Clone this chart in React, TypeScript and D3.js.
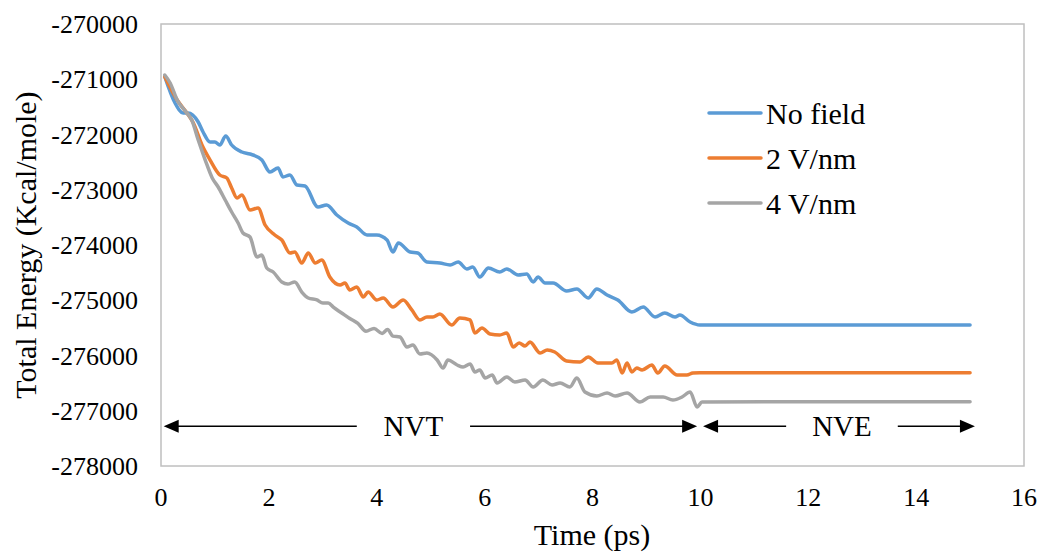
import React from "react";
import * as d3 from "d3";

// ---- Data (time in ps, energy in kcal/mole) ----
const seriesNames = ["No field", "2 V/nm", "4 V/nm"];
const seriesColors = ["#5B9BD5", "#ED7D31", "#A5A5A5"];

const noFieldT = [0.07, 0.26, 0.41, 0.5, 0.69, 0.78, 0.91, 1.0, 1.09, 1.2, 1.31, 1.5, 1.65, 1.87, 2.02, 2.17, 2.26, 2.39, 2.52, 2.67, 2.91, 3.07, 3.26, 3.47, 3.63, 3.82, 4.0, 4.19, 4.3, 4.4, 4.62, 4.76, 4.93, 5.17, 5.36, 5.51, 5.67, 5.78, 5.91, 6.07, 6.28, 6.41, 6.62, 6.78, 6.9, 6.99, 7.12, 7.27, 7.52, 7.71, 7.92, 8.08, 8.27, 8.47, 8.73, 8.94, 9.16, 9.34, 9.53, 9.62, 9.81, 9.99, 12.5, 15.0];
const noFieldE = [-270954, -271430, -271611, -271611, -271774, -271955, -272136, -272136, -272190, -272027, -272190, -272317, -272353, -272462, -272679, -272606, -272769, -272733, -272914, -272932, -273312, -273276, -273457, -273602, -273674, -273819, -273819, -273910, -274127, -273964, -274127, -274145, -274308, -274326, -274362, -274308, -274434, -274398, -274579, -274416, -274489, -274434, -274543, -274525, -274669, -274579, -274688, -274688, -274832, -274796, -274959, -274796, -274905, -274995, -275212, -275122, -275303, -275231, -275303, -275267, -275394, -275448, -275448, -275448];

const field2T = [0.07, 0.3, 0.48, 0.6, 0.76, 0.91, 1.09, 1.22, 1.31, 1.41, 1.5, 1.65, 1.8, 1.93, 2.11, 2.24, 2.39, 2.48, 2.61, 2.73, 2.86, 2.98, 3.13, 3.32, 3.41, 3.5, 3.63, 3.75, 3.84, 4.0, 4.12, 4.3, 4.49, 4.65, 4.8, 4.93, 5.04, 5.17, 5.39, 5.54, 5.73, 5.82, 5.95, 6.1, 6.28, 6.41, 6.53, 6.64, 6.75, 6.84, 7.03, 7.16, 7.3, 7.52, 7.77, 7.92, 8.1, 8.36, 8.45, 8.55, 8.64, 8.73, 8.82, 8.92, 9.1, 9.21, 9.34, 9.57, 9.75, 9.86, 9.99, 12.5, 15.0];
const field2E = [-270954, -271376, -271611, -271792, -272190, -272462, -272733, -272787, -272968, -273149, -273095, -273367, -273330, -273638, -273819, -273910, -274145, -274127, -274326, -274145, -274326, -274272, -274579, -274724, -274688, -274814, -274760, -274941, -274851, -274995, -274959, -275122, -274995, -275176, -275357, -275303, -275303, -275249, -275448, -275321, -275357, -275593, -275502, -275611, -275629, -275593, -275846, -275774, -275828, -275756, -275955, -275900, -275937, -276100, -276118, -276027, -276136, -276136, -276081, -276317, -276136, -276299, -276226, -276262, -276172, -276317, -276190, -276353, -276353, -276317, -276311, -276311, -276311];

const field4T = [0.07, 0.17, 0.3, 0.48, 0.57, 0.69, 0.82, 0.95, 1.06, 1.19, 1.31, 1.43, 1.52, 1.65, 1.78, 1.87, 1.96, 2.08, 2.24, 2.35, 2.48, 2.61, 2.73, 2.89, 3.0, 3.1, 3.2, 3.35, 3.5, 3.65, 3.8, 3.95, 4.1, 4.2, 4.3, 4.43, 4.56, 4.67, 4.8, 4.93, 5.12, 5.23, 5.32, 5.49, 5.6, 5.73, 5.82, 5.91, 6.01, 6.14, 6.23, 6.41, 6.56, 6.75, 6.9, 7.08, 7.25, 7.4, 7.58, 7.71, 7.86, 8.08, 8.27, 8.42, 8.64, 8.88, 9.07, 9.31, 9.49, 9.66, 9.81, 9.94, 10.03, 12.5, 15.0];
const field4E = [-270923, -271068, -271376, -271611, -271738, -272100, -272462, -272787, -272950, -273186, -273403, -273602, -273783, -273855, -274217, -274181, -274416, -274489, -274669, -274706, -274669, -274851, -274959, -274995, -275050, -275050, -275130, -275230, -275330, -275420, -275560, -275510, -275600, -275530, -275650, -275665, -275846, -275810, -275973, -275955, -276081, -276226, -276081, -276172, -276208, -276154, -276299, -276262, -276407, -276353, -276498, -276389, -276480, -276443, -276570, -276443, -276534, -276498, -276570, -276407, -276661, -276733, -276679, -276733, -276679, -276842, -276751, -276751, -276806, -276751, -276661, -276932, -276842, -276836, -276836];

const xTicks = [0, 2, 4, 6, 8, 10, 12, 14, 16];
const yTicks = [-270000, -271000, -272000, -273000, -274000, -275000, -276000, -277000, -278000];

// phase annotations: label, start, end, gap start, gap end (ps), at energy level
const phaseLabels = ["NVT", "NVE"];
const phaseStart = [0.05, 10.05];
const phaseEnd = [9.94, 15.09];
const phaseGapStart = [3.63, 11.59];
const phaseGapEnd = [5.73, 13.66];
const phaseLevel = -277280;

const W = 1043;
const H = 553;
const FONT = '"Liberation Serif", "Times New Roman", Times, serif';

export default function App() {
  const x = d3.scaleLinear().domain([0, 16]).range([161, 1024]);
  const y = d3.scaleLinear().domain([-278000, -270000]).range([466, 24]);

  const series = [
    { t: noFieldT, e: noFieldE },
    { t: field2T, e: field2E },
    { t: field4T, e: field4E },
  ];

  const line = d3
    .line<[number, number]>()
    .x((d) => x(d[0]))
    .y((d) => y(d[1]))
    .curve(d3.curveMonotoneX);

  const ay = y(phaseLevel);
  const headL = 15;
  const headH = 6.5;
  const ts = { fontFamily: FONT } as React.CSSProperties;

  return (
    <svg
      width={W}
      height={H}
      style={{ position: "absolute", left: 0, top: 0, background: "#fff" }}
    >
      <rect x={0} y={0} width={W} height={H} fill="#fff" />
      {/* plot border */}
      <rect
        x={x(0)}
        y={y(-270000)}
        width={x(16) - x(0)}
        height={y(-278000) - y(-270000)}
        fill="none"
        stroke="#BFBFBF"
        strokeWidth={1.5}
      />
      {/* y tick labels */}
      {yTicks.map((v) => (
        <text
          key={v}
          x={138}
          y={y(v)}
          dy="0.35em"
          textAnchor="end"
          fontSize={26}
          fill="#000"
          style={ts}
        >
          {v}
        </text>
      ))}
      {/* x tick labels */}
      {xTicks.map((v) => (
        <text key={v} x={x(v)} y={506} textAnchor="middle" fontSize={26} fill="#000" style={ts}>
          {v}
        </text>
      ))}
      {/* axis titles */}
      <text x={592} y={545} textAnchor="middle" fontSize={30} fill="#000" style={ts}>
        Time (ps)
      </text>
      <text
        transform={`translate(36, ${(y(-270000) + y(-278000)) / 2}) rotate(-90)`}
        textAnchor="middle"
        fontSize={30}
        fill="#000"
        style={ts}
      >
        Total Energy (Kcal/mole)
      </text>

      {/* series */}
      {series.map((s, i) => (
        <path
          key={i}
          d={line(s.t.map((t, j) => [t, s.e[j]] as [number, number])) || ""}
          fill="none"
          stroke={seriesColors[i]}
          strokeWidth={3.5}
          strokeLinejoin="round"
          strokeLinecap="round"
        />
      ))}

      {/* phase arrows */}
      {phaseLabels.map((lab, i) => {
        const x0 = x(phaseStart[i]);
        const x1 = x(phaseEnd[i]);
        const g0 = x(phaseGapStart[i]);
        const g1 = x(phaseGapEnd[i]);
        return (
          <g key={lab}>
            <line x1={x0 + headL - 1} x2={g0} y1={ay} y2={ay} stroke="#000" strokeWidth={1.5} />
            <line x1={g1} x2={x1 - headL + 1} y1={ay} y2={ay} stroke="#000" strokeWidth={1.5} />
            <polygon
              points={`${x0},${ay} ${x0 + headL},${ay - headH} ${x0 + headL},${ay + headH}`}
              fill="#000"
            />
            <polygon
              points={`${x1},${ay} ${x1 - headL},${ay - headH} ${x1 - headL},${ay + headH}`}
              fill="#000"
            />
            <text
              x={(g0 + g1) / 2}
              y={ay}
              dy="0.35em"
              textAnchor="middle"
              fontSize={29}
              fill="#000"
              style={ts}
            >
              {lab}
            </text>
          </g>
        );
      })}

      {/* legend */}
      {seriesNames.map((n, i) => {
        const ly = 113 + i * 45;
        return (
          <g key={n}>
            <line x1={709} x2={761} y1={ly} y2={ly} stroke={seriesColors[i]} strokeWidth={3.5} strokeLinecap="round" />
            <text x={766} y={ly} dy="0.35em" fontSize={30} fill="#000" style={ts}>
              {n}
            </text>
          </g>
        );
      })}
    </svg>
  );
}
